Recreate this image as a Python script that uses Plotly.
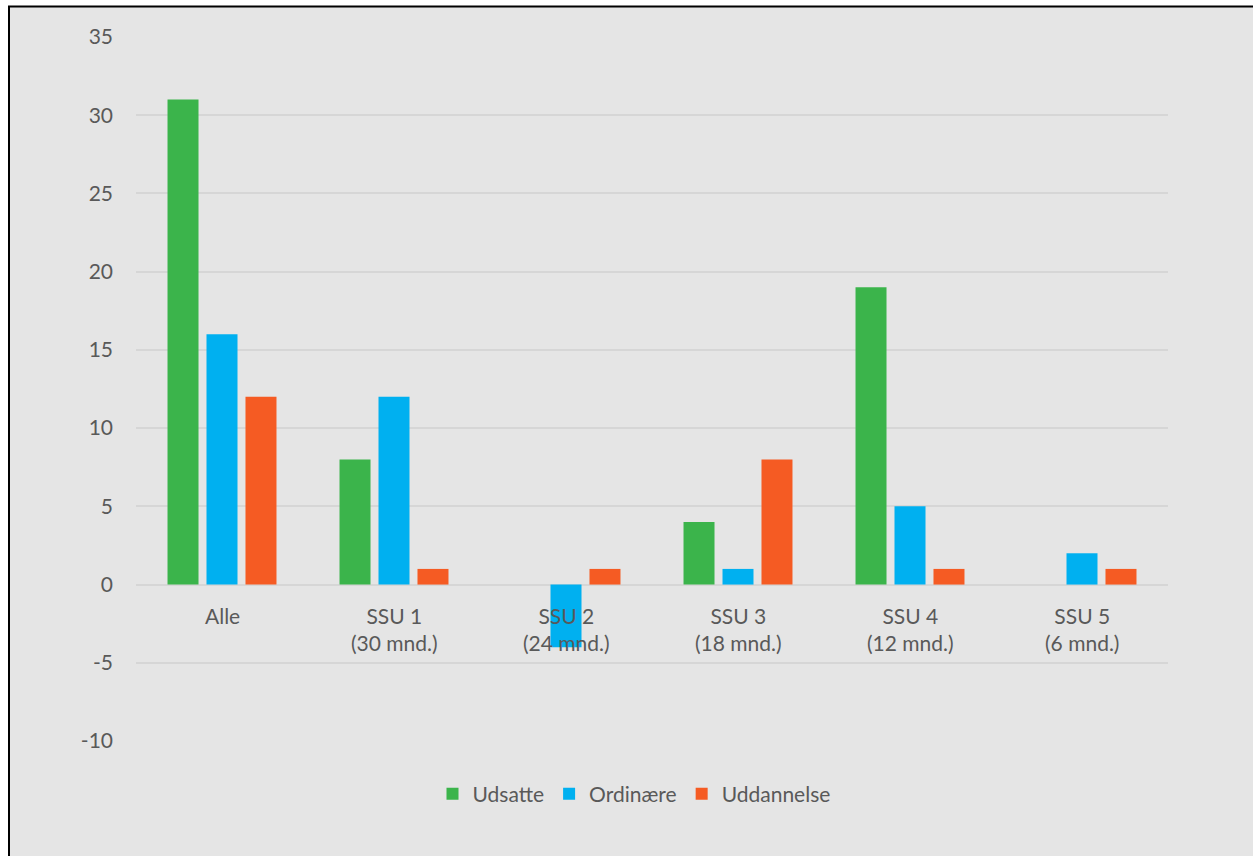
import plotly.graph_objects as go

categories = ["Alle", "SSU 1<br>(30 mnd.)", "SSU 2<br>(24 mnd.)", "SSU 3<br>(18 mnd.)",
              "SSU 4<br>(12 mnd.)", "SSU 5<br>(6 mnd.)"]
cat_keys = ["Alle", "SSU 1", "SSU 2", "SSU 3", "SSU 4", "SSU 5"]
udsatte = [31, 8, None, 4, 19, None]
ordinaere = [16, 12, -4, 1, 5, 2]
uddannelse = [12, 1, 1, 8, 1, 1]
series_names = ["Udsatte", "Ordinære", "Uddannelse"]
colors = ["#3bb44b", "#00b0f0", "#f55b23"]
y_ticks = [-10, -5, 0, 5, 10, 15, 20, 25, 30, 35]
y_ticktext = ["-10", "-5", "0", "5", "10", "15", "20", "25", "30", "35"]

FONT = "Lato"
TXT = "#595959"
FS = 21
W, H = 1253, 856
L, R, T, B = 136, 85, 37, 115
pw, ph = W - L - R, H - T - B

fig = go.Figure()
for name, vals, col in zip(series_names, [udsatte, ordinaere, uddannelse], colors):
    fig.add_trace(go.Bar(x=cat_keys, y=vals, name=name, marker=dict(color=col, line=dict(width=0))))

for key, lab in zip(cat_keys, categories):
    fig.add_annotation(x=key, y=0, xref="x", yref="y", text=lab, showarrow=False,
                       yanchor="top", yshift=-16, font=dict(family=FONT, size=FS, color=TXT),
                       align="center")

# frame (left and top black border, grey background)
def px2x(p):
    return (p - L) / pw

def py2y(p):
    return (H - B - p) / ph

fig.add_shape(type="rect", xref="paper", yref="paper",
              x0=px2x(9), x1=px2x(W + 20), y0=py2y(H + 20), y1=py2y(6.5),
              fillcolor="#e5e5e5", line=dict(color="black", width=2), layer="below")

fig.update_layout(
    width=W, height=H,
    margin=dict(l=L, r=R, t=T, b=B),
    paper_bgcolor="white",
    plot_bgcolor="rgba(0,0,0,0)",
    barmode="group",
    bargap=0.32,
    bargroupgap=0.205,
    font=dict(family=FONT, size=FS, color=TXT),
    showlegend=True,
    legend=dict(orientation="h", x=px2x(634), xanchor="center", y=py2y(794), yanchor="middle",
                font=dict(family=FONT, size=FS, color=TXT), bgcolor="rgba(0,0,0,0)",
                traceorder="normal"),
    xaxis=dict(showticklabels=False, showgrid=False, zeroline=False, showline=False, ticks=""),
    yaxis=dict(range=[-10, 35], tickvals=y_ticks, ticktext=y_ticktext, showgrid=True,
               gridcolor="#d6d6d6", gridwidth=1.5, zeroline=True, zerolinecolor="#d6d6d6",
               zerolinewidth=1.5, showline=False, ticks="", ticklabelstandoff=22,
               tickfont=dict(family=FONT, size=FS, color=TXT)),
)

fig.write_html("out.html")
